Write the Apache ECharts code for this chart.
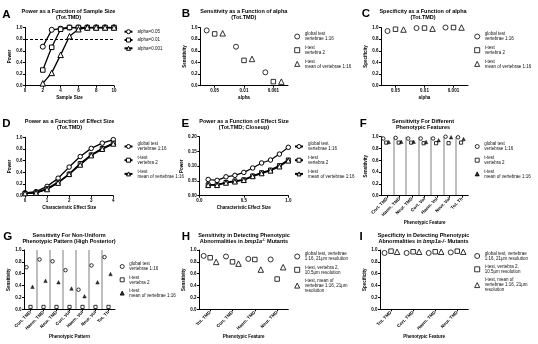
<!DOCTYPE html>
<html><head><meta charset="utf-8">
<script src="https://cdn.jsdelivr.net/npm/echarts@6/dist/echarts.min.js"></script>
<style>html,body{margin:0;padding:0;background:#fff}#c{width:538px;height:344px}</style>
</head><body><div id="c"></div>
<script>
// ---------------- DATA ----------------
const sampleSizes = [2, 3, 4, 5, 6, 7, 8, 9, 10];
const powerAlpha005 = [0.67, 0.96, 0.98, 1, 1, 1, 1, 1, 1];
const powerAlpha001 = [0.27, 0.66, 0.97, 1, 1, 1, 1, 1, 1];
const powerAlpha0001 = [0.04, 0.22, 0.53, 0.85, 0.97, 1, 1, 1, 1];
const alphaLegend = ['alpha=0.05', 'alpha=0.01', 'alpha=0.001'];

const alphaLabels = ['0.05', '0.01', '0.001'];
const sensGlobalAlpha = [0.95, 0.67, 0.23];
const sensT2Alpha = [0.89, 0.435, 0.07];
const sensTMeanAlpha = [0.90, 0.46, 0.07];
const specGlobalAlpha = [0.94, 0.99, 1.0];
const specT2Alpha = [0.97, 0.99, 1.0];
const specTMeanAlpha = [0.965, 0.98, 1.0];

const effectSizes = [0, 0.5, 1, 1.5, 2, 2.5, 3, 3.5, 4];
const powerGlobalEffect = [0.05, 0.07, 0.16, 0.30, 0.49, 0.67, 0.81, 0.90, 0.96];
const powerT2Effect = [0.04, 0.05, 0.12, 0.23, 0.37, 0.55, 0.70, 0.81, 0.90];
const powerTMeanEffect = [0.04, 0.05, 0.11, 0.22, 0.37, 0.53, 0.69, 0.80, 0.89];

const effectSizesClose = [0.1, 0.2, 0.3, 0.4, 0.5, 0.6, 0.7, 0.8, 0.9, 1.0];
const powerGlobalClose = [0.055, 0.052, 0.064, 0.069, 0.079, 0.094, 0.111, 0.121, 0.141, 0.164];
const powerT2Close = [0.037, 0.037, 0.045, 0.050, 0.054, 0.067, 0.078, 0.087, 0.102, 0.121];
const powerTMeanClose = [0.036, 0.036, 0.044, 0.048, 0.053, 0.066, 0.076, 0.085, 0.099, 0.119];

const featuresF = ['Cort. TMD', 'Haem. TMD', 'Neur. TMD', 'Cort. Vol', 'Haem. Vol', 'Neur. Vol', 'Tot. Th'];
const sensGlobalF = [0.97, 0.98, 0.97, 0.97, 0.97, 1.0, 0.99];
const sensT2F = [0.90, 0.90, 0.90, 0.89, 0.89, 0.89, 0.90];
const sensTMeanF = [0.91, 0.915, 0.915, 0.91, 0.94, 0.99, 0.96];

const sensGlobalG = [0.71, 0.84, 0.81, 0.66, 0.33, 0.74, 0.88];
const sensT2G = [0.04, 0.04, 0.04, 0.04, 0.04, 0.04, 0.04];
const sensTMeanG = [0.38, 0.48, 0.455, 0.35, 0.22, 0.455, 0.595];

const featuresH = ['Tot. TMD', 'Cort. TMD', 'Haem. TMD', 'Neur. TMD'];
const sensGlobalH = [0.90, 0.89, 0.85, 0.84];
const sensT2H = [0.87, 0.80, 0.84, 0.51];
const sensTMeanH = [0.80, 0.77, 0.67, 0.71];

const specGlobalI = [0.95, 0.95, 0.95, 0.96];
const specT2I = [0.98, 0.97, 0.97, 0.98];
const specTMeanI = [0.97, 0.97, 0.97, 0.97];

const testLegend = ['global test\nvertebrae 1:16', 't-test\nvertebra 2', 't-test\nmean of vertebrae 1:16'];
const mutantLegend = ['global test, vertebrae\n1:16, 21\u03bcm resolution', 't-test, vertebra 2,\n10.5\u03bcm resolution', 't-test, mean of\nvertebrae 1:16, 21\u03bcm\nresolution'];

const panelLetters = ['A', 'B', 'C', 'D', 'E', 'F', 'G', 'H', 'I'];
const panelTitles = [
  '{n|Power as a Function of Sample Size}\n{n|(Tot.TMD)}',
  '{n|Sensitivity as a Function of alpha}\n{n|(Tot.TMD)}',
  '{n|Specificity as a Function of alpha}\n{n|(Tot.TMD)}',
  '{n|Power as a Function of Effect Size}\n{n|(Tot.TMD)}',
  '{n|Power as a Function of Effect Size}\n{n|(Tot.TMD; Closeup)}',
  '{n|Sensitivity For Different}\n{n|Phenotypic Features}',
  '{n|Sensitivity For Non-Uniform}\n{n|Phenotypic Pattern (High Posterior)}',
  '{n|Sensitivity in Detecting Phenotypic}\n{n|Abnormalities in }{i|bmp1a}{s|-/-}{n| Mutants}',
  '{n|Specificity in Detecting Phenotypic}\n{n|Abnormalities in }{i|bmp1a-/-}{n| Mutants}'
];
const yNames = ['Power', 'Sensitivity', 'Specificity', 'Power', 'Power', 'Sensitivity', 'Sensitivity', 'Sensitivity', 'Specificity'];
const xNames = ['Sample Size', 'alpha', 'alpha', 'Characteristic Effect Size', 'Characteristic Effect Size', 'Phenotypic Feature', 'Phenotypic Pattern', 'Phenotypic Feature', 'Phenotypic Feature'];

// ---------------- LAYOUT / STYLE ----------------
const FONT = '"Liberation Sans", Arial, sans-serif';
const grids = [
  [25, 27.5, 89, 58.2], [200, 27.5, 88, 58.2], [381, 27.5, 87, 58.2],
  [25, 137.3, 88.3, 58.4], [199.3, 136.7, 89, 59], [381, 136.7, 87.3, 59],
  [24, 250, 91, 59.3], [199, 250, 89.3, 59.3], [380, 250, 88.3, 59.3]
];
const letterPos = [[6.5, 14.5], [186, 14.3], [366, 14.3], [6.3, 124.2], [185.3, 124.2], [363.3, 124.2], [7.8, 236.7], [185.8, 236.7], [361.2, 236.7]];
const titlePos = [[68.5, 8.3], [243.8, 8.3], [423, 8.3], [69.5, 118.7], [244, 118.7], [423, 118.7], [69, 232], [244, 232], [423.5, 232]];
const yNameGap = [7, 7.3, 8.3, 7.3, 7.5, 9.3, 7.3, 7.3, 8.3];
const xNameGap = [9.8, 10, 10, 9.1, 9.1, 22.8, 23.2, 23.2, 23.2];
// legend: left, top, gap, iconW, iconH
const legendPos = [
  [123.5, 29.2, 3.3, 8, 5], [294.2, 31.5, 3.7, 5, 5], [474.2, 31.5, 3.7, 5, 5],
  [123.5, 141.5, 3.7, 8, 5], [294, 141.5, 3.7, 8, 5], [474.7, 141.5, 3.7, 4, 4],
  [119.7, 261.5, 3.3, 4, 4], [294.2, 251.5, 3.3, 5, 5], [474.2, 251, 3.3, 5, 5]
];

const hollow = { color: '#fff', borderColor: '#000', borderWidth: 1 };
const filled = { color: '#000', borderColor: '#000', borderWidth: 0.5 };
const axisTxt = { fontSize: 4.5, fontWeight: 'bold', color: '#000', fontFamily: FONT };
const axLine = { show: true, lineStyle: { color: '#000', width: 1 } };

function yAxis(gi, max, interval, digits) {
  return {
    type: 'value', gridIndex: gi, min: 0, max: max, interval: interval,
    name: yNames[gi], nameLocation: 'middle', nameGap: yNameGap[gi], nameRotate: 90,
    nameTextStyle: axisTxt, axisLine: axLine,
    axisTick: { show: true, length: 2, lineStyle: { color: '#000', width: 1 } },
    axisLabel: Object.assign({ margin: 2.5, formatter: v => v.toFixed(digits) }, axisTxt),
    splitLine: { show: false }
  };
}
function xValue(gi, min, max, interval, digits) {
  return {
    type: 'value', gridIndex: gi, min: min, max: max, interval: interval,
    name: xNames[gi], nameLocation: 'middle', nameGap: xNameGap[gi],
    nameTextStyle: axisTxt, axisLine: axLine,
    axisTick: { show: true, length: 2, lineStyle: { color: '#000', width: 1 } },
    axisLabel: Object.assign({ margin: 2.5, formatter: v => v.toFixed(digits) }, axisTxt),
    splitLine: { show: false }
  };
}
function xCat(gi, cats, rotate, separators) {
  return {
    type: 'category', gridIndex: gi, data: cats,
    name: xNames[gi], nameLocation: 'middle', nameGap: xNameGap[gi],
    nameTextStyle: axisTxt, axisLine: axLine,
    axisTick: { show: true, alignWithLabel: true, interval: 0, length: 2, lineStyle: { color: '#000', width: 1 } },
    axisLabel: Object.assign({ margin: 2.5, interval: 0, rotate: rotate }, axisTxt),
    splitLine: separators ? { show: true, interval: 0, showMinLine: false, showMaxLine: false, lineStyle: { color: '#a8a8a8', width: 1.5 } } : { show: false }
  };
}
function lineSeries(panel, gi, label, xs, ys, symbol, size, lw) {
  return {
    type: 'line', name: panel + '|' + label, xAxisIndex: gi, yAxisIndex: gi,
    data: xs.map((x, i) => [x, ys[i]]), symbol: symbol, symbolSize: size, showAllSymbol: true,
    lineStyle: { color: '#000', width: lw }, itemStyle: hollow, silent: true, animation: false
  };
}
function scatterSeries(panel, gi, label, ys, symbol, size, offset, style) {
  return {
    type: 'scatter', name: panel + '|' + label, xAxisIndex: gi, yAxisIndex: gi,
    data: ys, symbol: symbol, symbolSize: size, symbolOffset: [offset, 0],
    itemStyle: style, silent: true, animation: false
  };
}

const series = [];
// A
series.push(Object.assign(lineSeries('A', 0, alphaLegend[0], sampleSizes, powerAlpha005, 'circle', 5, 1.3), {
  markLine: { silent: true, symbol: 'none', label: { show: false }, lineStyle: { type: [3, 2], color: '#000', width: 1 }, data: [{ yAxis: 0.8 }] }
}));
series.push(lineSeries('A', 0, alphaLegend[1], sampleSizes, powerAlpha001, 'rect', 4.5, 1.3));
series.push(lineSeries('A', 0, alphaLegend[2], sampleSizes, powerAlpha0001, 'triangle', 5.5, 1.3));
// B
series.push(scatterSeries('B', 1, testLegend[0], sensGlobalAlpha, 'circle', 5, -8, hollow));
series.push(scatterSeries('B', 1, testLegend[1], sensT2Alpha, 'rect', 4.5, 0, hollow));
series.push(scatterSeries('B', 1, testLegend[2], sensTMeanAlpha, 'triangle', 5.5, 8, hollow));
// C
series.push(scatterSeries('C', 2, testLegend[0], specGlobalAlpha, 'circle', 5, -8, hollow));
series.push(scatterSeries('C', 2, testLegend[1], specT2Alpha, 'rect', 4.5, 0, hollow));
series.push(scatterSeries('C', 2, testLegend[2], specTMeanAlpha, 'triangle', 5.5, 8, hollow));
// D
series.push(lineSeries('D', 3, testLegend[0], effectSizes, powerGlobalEffect, 'circle', 4.5, 1.3));
series.push(lineSeries('D', 3, testLegend[1], effectSizes, powerT2Effect, 'rect', 4, 1.5));
series.push(lineSeries('D', 3, testLegend[2], effectSizes, powerTMeanEffect, 'triangle', 5, 1.5));
// E
series.push(lineSeries('E', 4, testLegend[0], effectSizesClose, powerGlobalClose, 'circle', 4.5, 1.2));
series.push(lineSeries('E', 4, testLegend[1], effectSizesClose, powerT2Close, 'rect', 4, 1.5));
series.push(lineSeries('E', 4, testLegend[2], effectSizesClose, powerTMeanClose, 'triangle', 5, 1.5));
// F
series.push(scatterSeries('F', 5, testLegend[0], sensGlobalF, 'circle', 3.5, -4, hollow));
series.push(scatterSeries('F', 5, testLegend[1], sensT2F, 'rect', 3.2, -1, hollow));
series.push(scatterSeries('F', 5, testLegend[2], sensTMeanF, 'triangle', 3.5, 1.5, filled));
// G
series.push(scatterSeries('G', 6, testLegend[0], sensGlobalG, 'circle', 3.5, -4, hollow));
series.push(scatterSeries('G', 6, testLegend[1], sensT2G, 'rect', 3.2, 0, hollow));
series.push(scatterSeries('G', 6, testLegend[2], sensTMeanG, 'triangle', 3.5, 2, filled));
// H
series.push(scatterSeries('H', 7, mutantLegend[0], sensGlobalH, 'circle', 5, -6.5, hollow));
series.push(scatterSeries('H', 7, mutantLegend[1], sensT2H, 'rect', 4.5, 0, hollow));
series.push(scatterSeries('H', 7, mutantLegend[2], sensTMeanH, 'triangle', 5.5, 6, hollow));
// I
series.push(scatterSeries('I', 8, mutantLegend[0], specGlobalI, 'circle', 5, -6.5, hollow));
series.push(scatterSeries('I', 8, mutantLegend[1], specT2I, 'rect', 4.5, 0, hollow));
series.push(scatterSeries('I', 8, mutantLegend[2], specTMeanI, 'triangle', 5.5, 6, hollow));

const legendLabels = [alphaLegend, testLegend, testLegend, testLegend, testLegend, testLegend, testLegend, mutantLegend, mutantLegend];
const legends = panelLetters.map((p, gi) => {
  const L = legendPos[gi];
  return {
    show: true, orient: 'vertical', left: L[0], top: L[1], padding: 0, itemGap: L[2],
    itemWidth: L[3], itemHeight: L[4], selectedMode: false,
    data: legendLabels[gi].map(t => p + '|' + t),
    formatter: n => n.split('|')[1],
    itemStyle: { borderWidth: 1 },
    textStyle: { fontSize: 4.5, lineHeight: 5, height: 5, color: '#111', fontFamily: FONT }
  };
});

const graphics = [];
panelLetters.forEach((p, gi) => {
  graphics.push({ type: 'text', x: letterPos[gi][0], y: letterPos[gi][1], silent: true,
    style: { text: p, fontSize: 11.5, fontWeight: 'bold', fontFamily: FONT, fill: '#000', align: 'center', verticalAlign: 'middle' } });
  graphics.push({ type: 'text', x: titlePos[gi][0], y: titlePos[gi][1], silent: true,
    style: { text: panelTitles[gi], align: 'center', verticalAlign: 'top', fill: '#000', fontFamily: FONT,
      rich: {
        n: { fontSize: 5.5, fontWeight: 'bold', lineHeight: 6, fontFamily: FONT, fill: '#000' },
        i: { fontSize: 5.5, fontWeight: 'bold', fontStyle: 'italic', lineHeight: 6, fontFamily: FONT, fill: '#000' },
        s: { fontSize: 3.6, fontWeight: 'bold', lineHeight: 6, verticalAlign: 'top', fontFamily: FONT, fill: '#000' }
      } } });
});

const option = {
  animation: false,
  backgroundColor: '#fff',
  textStyle: { fontFamily: FONT },
  grid: grids.map(g => ({ left: g[0], top: g[1], width: g[2], height: g[3], containLabel: false, outerBoundsMode: 'none' })),
  xAxis: [
    xValue(0, 0, 10, 2, 0), xCat(1, alphaLabels, 0, false), xCat(2, alphaLabels, 0, false),
    xValue(3, 0, 4, 1, 0), xValue(4, 0, 1, 0.5, 1), xCat(5, featuresF, 45, true),
    xCat(6, featuresF, 45, true), xCat(7, featuresH, 45, false), xCat(8, featuresH, 45, false)
  ],
  yAxis: [
    yAxis(0, 1, 0.2, 1), yAxis(1, 1, 0.2, 1), yAxis(2, 1, 0.2, 1),
    yAxis(3, 1, 0.2, 1), yAxis(4, 0.2, 0.05, 2), yAxis(5, 1, 0.2, 1),
    yAxis(6, 1, 0.2, 1), yAxis(7, 1, 0.2, 1), yAxis(8, 1, 0.2, 1)
  ],
  legend: legends,
  series: series,
  graphic: graphics
};
const chart = echarts.init(document.getElementById('c'), null, { renderer: 'canvas' });
chart.setOption(option);
</script>
</body></html>
